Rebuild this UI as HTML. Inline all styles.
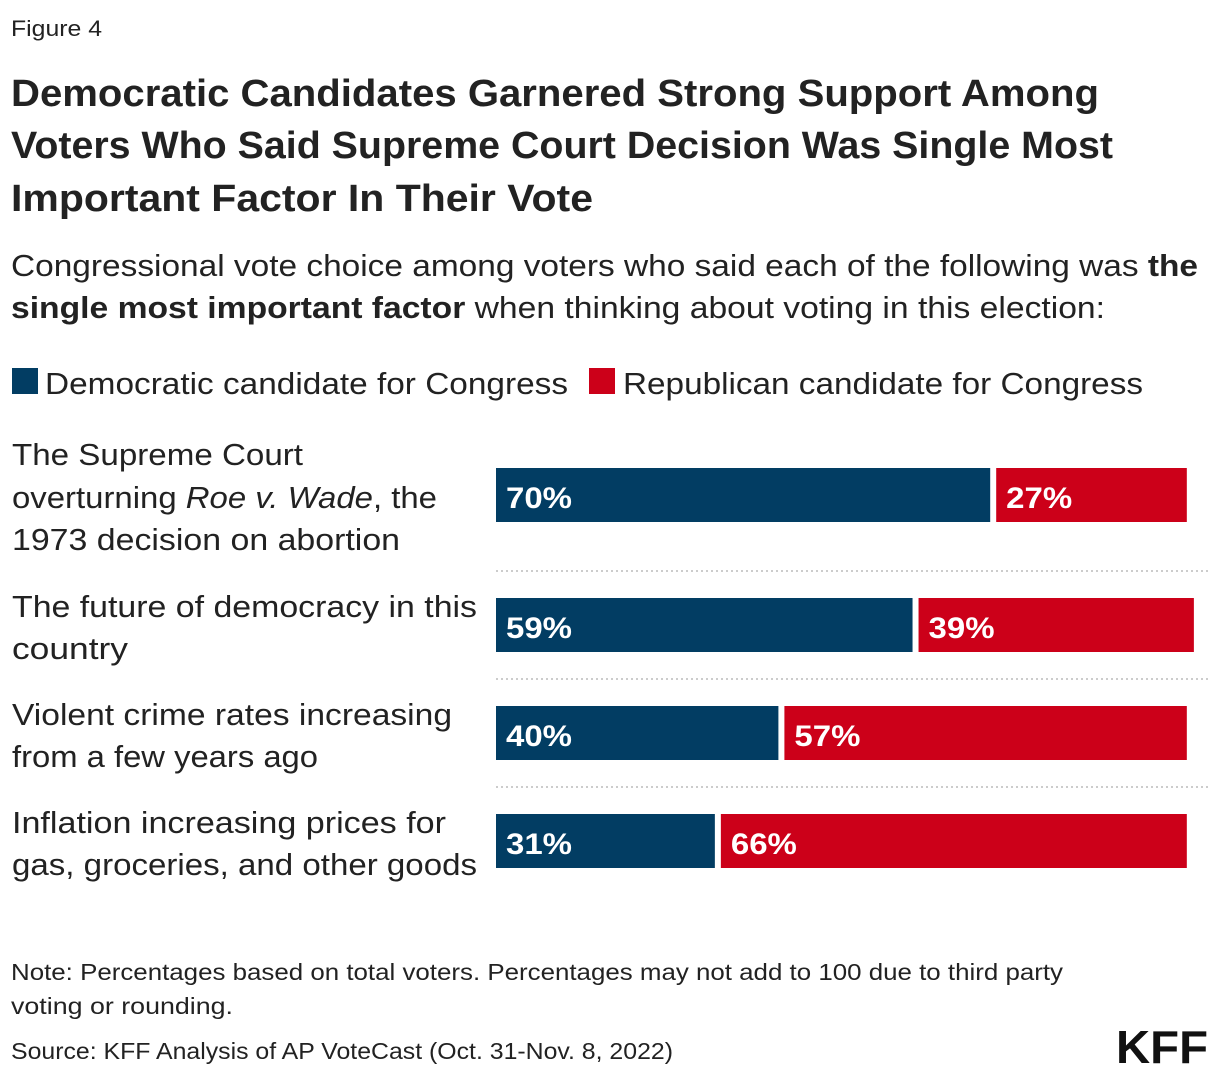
<!DOCTYPE html>
<html><head><meta charset="utf-8"><style>
html,body{margin:0;padding:0;background:#fff}
svg{display:block;font-family:"Liberation Sans",sans-serif}
</style></head><body>
<svg id="chart" width="1220" height="1078" viewBox="0 0 1220 1078" xmlns="http://www.w3.org/2000/svg">
<text x="11" y="36" font-size="22" fill="#222" textLength="91" lengthAdjust="spacingAndGlyphs">Figure 4</text>
<g font-size="38" font-weight="bold" fill="#222">
<text x="11" y="106" textLength="1088" lengthAdjust="spacingAndGlyphs">Democratic Candidates Garnered Strong Support Among</text>
<text x="11" y="158" textLength="1102" lengthAdjust="spacingAndGlyphs">Voters Who Said Supreme Court Decision Was Single Most</text>
<text x="11" y="211" textLength="582" lengthAdjust="spacingAndGlyphs">Important Factor In Their Vote</text>
</g>
<g font-size="31" fill="#222">
<text x="11" y="276" textLength="1187" lengthAdjust="spacingAndGlyphs">Congressional vote choice among voters who said each of the following was <tspan font-weight="bold">the</tspan></text>
<text x="11" y="318" textLength="1094" lengthAdjust="spacingAndGlyphs"><tspan font-weight="bold">single most important factor</tspan> when thinking about voting in this election:</text>
</g>
<g font-size="31" fill="#222">
<rect x="12" y="368" width="26" height="26" fill="#023d63"/>
<text x="45" y="394" textLength="523" lengthAdjust="spacingAndGlyphs">Democratic candidate for Congress</text>
<rect x="589" y="368" width="26" height="26" fill="#cc0019"/>
<text x="623" y="394" textLength="520" lengthAdjust="spacingAndGlyphs">Republican candidate for Congress</text>
</g>
<g id="rows"></g>
<g font-size="23" fill="#222">
<text x="11" y="980" textLength="1052" lengthAdjust="spacingAndGlyphs">Note: Percentages based on total voters. Percentages may not add to 100 due to third party</text>
<text x="11" y="1014" textLength="222" lengthAdjust="spacingAndGlyphs">voting or rounding.</text>
<text x="11" y="1059" textLength="662" lengthAdjust="spacingAndGlyphs">Source: KFF Analysis of AP VoteCast (Oct. 31-Nov. 8, 2022)</text>
</g>
<text x="1116" y="1063" font-size="46" font-weight="bold" fill="#111" textLength="92" lengthAdjust="spacingAndGlyphs">KFF</text>
</svg>
<script>
const categories=[
 [["The Supreme Court",291],["overturning <i>Roe v. Wade</i>, the",425],["1973 decision on abortion",388]],
 [["The future of democracy in this",465],["country",116]],
 [["Violent crime rates increasing",440],["from a few years ago",306]],
 [["Inflation increasing prices for",434],["gas, groceries, and other goods",465]]
];
const demValues=[70,59,40,31];
const repValues=[27,39,57,66];
const NS="http://www.w3.org/2000/svg";
const g=document.getElementById('rows');
const x0=496,scale=7.06,gap=6,barH=54;
const barTops=[468,598,706,814];
const labelBase=[[465,508,550],[617,659],[725,767],[833,875]];
const seps=[571,679,787];
function x(v){return v*scale;}
function mk(tag,attrs){const e=document.createElementNS(NS,tag);for(const k in attrs)e.setAttribute(k,attrs[k]);return e;}
categories.forEach((lines,i)=>{
 lines.forEach((ln,j)=>{
  const t=mk('text',{x:12,y:labelBase[i][j],'font-size':31,fill:'#222',textLength:ln[1],lengthAdjust:'spacingAndGlyphs'});
  
  
  t.innerHTML=ln[0].replace('<i>','<tspan font-style="italic">').replace('</i>','</tspan>');
  g.appendChild(t);
 });
 const y=barTops[i];
 const wd=x(demValues[i]);
 const b1=mk('rect',{x:x0,y:y,width:wd,height:barH,fill:'#023d63'});
 
 
 g.appendChild(b1);
 const wr=x(repValues[i]);
 const b2=mk('rect',{x:x0+wd+gap,y:y,width:wr,height:barH,fill:'#cc0019'});
 
 
 g.appendChild(b2);
 [[x0+10,demValues[i]],[x0+wd+gap+10,repValues[i]]].forEach(p=>{
  const t=mk('text',{x:p[0],y:y+40,'font-size':30,'font-weight':'bold',fill:'#fff',textLength:66,lengthAdjust:'spacingAndGlyphs'});
  
  
  t.textContent=p[1]+'%';
  g.appendChild(t);
 });
 if(i<seps.length){
  const l=mk('line',{x1:496,x2:1208,y1:seps[i],y2:seps[i],stroke:'#ccc','stroke-width':2,'stroke-dasharray':'2,3'});
  
  
  g.appendChild(l);
 }
});
</script>
</body></html>
